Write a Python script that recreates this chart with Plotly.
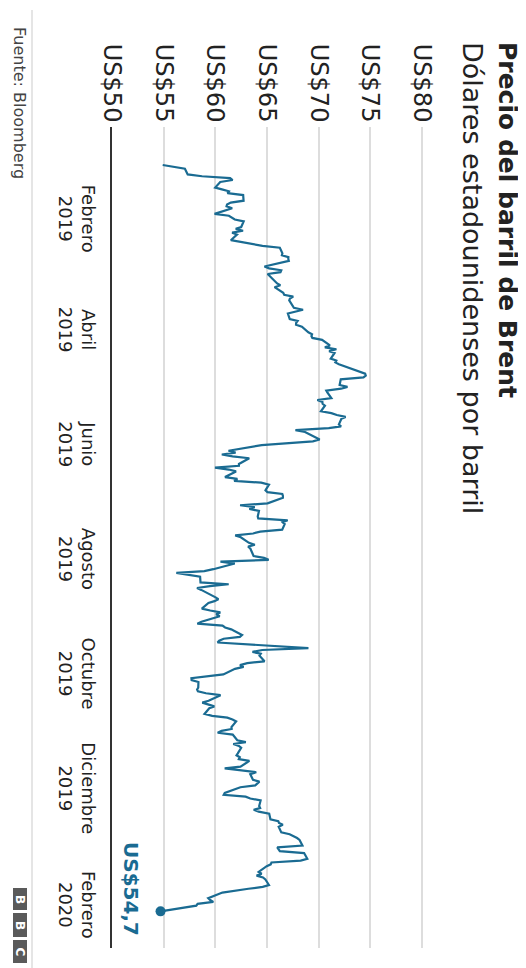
import plotly.graph_objects as go

# ---------------- data ----------------
fechas = [
    "2019-01-02","2019-01-03","2019-01-04","2019-01-07","2019-01-08","2019-01-09","2019-01-10","2019-01-11",
    "2019-01-14","2019-01-15","2019-01-16","2019-01-17","2019-01-18","2019-01-21","2019-01-22","2019-01-23",
    "2019-01-24","2019-01-25","2019-01-28","2019-01-29","2019-01-30","2019-01-31",
    "2019-02-01","2019-02-04","2019-02-05","2019-02-06","2019-02-07","2019-02-08","2019-02-11","2019-02-12",
    "2019-02-13","2019-02-14","2019-02-15","2019-02-18","2019-02-19","2019-02-20","2019-02-21","2019-02-22",
    "2019-02-25","2019-02-26","2019-02-27","2019-02-28",
    "2019-03-01","2019-03-04","2019-03-05","2019-03-06","2019-03-07","2019-03-08","2019-03-11","2019-03-12",
    "2019-03-13","2019-03-14","2019-03-15","2019-03-18","2019-03-19","2019-03-20","2019-03-21","2019-03-22",
    "2019-03-25","2019-03-26","2019-03-27","2019-03-28","2019-03-29",
    "2019-04-01","2019-04-02","2019-04-03","2019-04-04","2019-04-05","2019-04-08","2019-04-09","2019-04-10",
    "2019-04-11","2019-04-12","2019-04-15","2019-04-16","2019-04-17","2019-04-18","2019-04-22","2019-04-23",
    "2019-04-24","2019-04-25","2019-04-26","2019-04-29","2019-04-30",
    "2019-05-01","2019-05-02","2019-05-03","2019-05-06","2019-05-07","2019-05-08","2019-05-09","2019-05-10",
    "2019-05-13","2019-05-14","2019-05-15","2019-05-16","2019-05-17","2019-05-20","2019-05-21","2019-05-22",
    "2019-05-23","2019-05-24","2019-05-27","2019-05-28","2019-05-29","2019-05-30","2019-05-31",
    "2019-06-03","2019-06-04","2019-06-05","2019-06-06","2019-06-07","2019-06-10","2019-06-11","2019-06-12",
    "2019-06-13","2019-06-14","2019-06-17","2019-06-18","2019-06-19","2019-06-20","2019-06-21","2019-06-24",
    "2019-06-25","2019-06-26","2019-06-27","2019-06-28",
    "2019-07-01","2019-07-02","2019-07-03","2019-07-04","2019-07-05","2019-07-08","2019-07-09","2019-07-10",
    "2019-07-11","2019-07-12","2019-07-15","2019-07-16","2019-07-17","2019-07-18","2019-07-19","2019-07-22",
    "2019-07-23","2019-07-24","2019-07-25","2019-07-26","2019-07-29","2019-07-30","2019-07-31",
    "2019-08-01","2019-08-02","2019-08-05","2019-08-06","2019-08-07","2019-08-08","2019-08-09","2019-08-12",
    "2019-08-13","2019-08-14","2019-08-15","2019-08-16","2019-08-19","2019-08-20","2019-08-21","2019-08-22",
    "2019-08-23","2019-08-26","2019-08-27","2019-08-28","2019-08-29","2019-08-30",
    "2019-09-02","2019-09-03","2019-09-04","2019-09-05","2019-09-06","2019-09-09","2019-09-10","2019-09-11",
    "2019-09-12","2019-09-13","2019-09-16","2019-09-17","2019-09-18","2019-09-19","2019-09-20","2019-09-23",
    "2019-09-24","2019-09-25","2019-09-26","2019-09-27","2019-09-30",
    "2019-10-01","2019-10-02","2019-10-03","2019-10-04","2019-10-07","2019-10-08","2019-10-09","2019-10-10",
    "2019-10-11","2019-10-14","2019-10-15","2019-10-16","2019-10-17","2019-10-18","2019-10-21","2019-10-22",
    "2019-10-23","2019-10-24","2019-10-25","2019-10-28","2019-10-29","2019-10-30","2019-10-31",
    "2019-11-01","2019-11-04","2019-11-05","2019-11-06","2019-11-07","2019-11-08","2019-11-11","2019-11-12",
    "2019-11-13","2019-11-14","2019-11-15","2019-11-18","2019-11-19","2019-11-20","2019-11-21","2019-11-22",
    "2019-11-25","2019-11-26","2019-11-27","2019-11-28","2019-11-29",
    "2019-12-02","2019-12-03","2019-12-04","2019-12-05","2019-12-06","2019-12-09","2019-12-10","2019-12-11",
    "2019-12-12","2019-12-13","2019-12-16","2019-12-17","2019-12-18","2019-12-19","2019-12-20","2019-12-23",
    "2019-12-24","2019-12-26","2019-12-27","2019-12-30","2019-12-31",
    "2020-01-02","2020-01-03","2020-01-06","2020-01-07","2020-01-08","2020-01-09","2020-01-10","2020-01-13",
    "2020-01-14","2020-01-15","2020-01-16","2020-01-17","2020-01-20","2020-01-21","2020-01-22","2020-01-23",
    "2020-01-24","2020-01-27","2020-01-28","2020-01-29","2020-01-30","2020-01-31",
    "2020-02-03",
]

precio_brent = [
    54.91,55.95,57.06,57.33,58.72,61.44,61.68,60.48,59.99,60.64,61.32,61.18,62.70,62.74,61.50,61.14,
    61.09,61.64,59.93,61.32,61.65,61.89,
    62.75,62.51,61.98,62.69,61.63,62.10,61.51,62.42,63.61,64.57,66.25,66.50,66.45,67.08,67.07,67.12,
    64.76,65.21,66.39,66.31,
    65.07,65.67,65.86,65.99,66.30,65.74,66.58,66.67,67.55,67.23,67.16,67.54,67.61,68.50,67.86,67.03,
    67.21,67.97,67.83,67.82,68.39,
    69.01,69.37,69.31,69.40,70.34,71.10,70.61,71.73,71.02,71.55,71.18,71.72,71.62,71.97,74.04,74.51,
    74.57,74.35,72.15,72.04,72.80,
    72.18,70.75,70.85,71.24,69.88,70.37,70.39,70.62,70.23,71.24,71.77,72.62,72.21,71.97,72.18,70.99,
    67.76,68.69,69.70,70.11,69.45,66.87,64.49,
    61.28,61.97,60.63,61.67,63.29,62.29,62.29,59.97,61.31,62.01,60.94,62.14,61.82,64.45,65.20,64.86,
    65.05,66.49,66.55,66.55,
    65.06,62.40,63.82,63.30,64.23,64.11,64.16,67.01,66.52,66.72,66.48,64.35,63.66,61.93,62.47,63.26,
    63.83,63.18,63.39,63.46,63.71,64.72,65.17,
    60.50,61.89,59.81,58.94,56.23,57.38,58.53,58.57,61.30,59.48,58.23,58.64,59.74,60.03,60.30,59.92,
    59.34,58.70,59.51,60.49,60.08,60.43,
    58.66,58.26,60.70,60.95,61.54,62.59,62.38,60.81,60.38,60.22,69.02,64.55,63.60,64.40,64.28,64.77,
    63.10,62.39,62.74,61.91,60.78,
    58.89,57.69,57.71,58.37,58.35,58.24,58.32,59.10,60.51,59.35,58.74,59.42,59.91,59.42,58.96,59.70,
    61.17,61.67,62.02,61.57,61.59,60.61,60.23,
    61.69,62.13,62.96,61.74,62.29,62.51,62.18,62.06,62.37,62.28,63.30,62.44,60.91,62.40,63.97,63.39,
    63.65,64.27,64.06,63.87,62.43,
    60.92,60.82,62.94,63.39,64.39,64.25,64.34,63.72,64.20,65.22,65.34,66.10,66.17,66.54,66.14,66.39,
    67.20,67.92,68.16,68.44,66.00,
    66.25,68.60,68.91,68.27,65.44,65.37,64.98,64.20,64.49,64.00,64.62,64.85,65.20,64.59,63.21,62.04,
    60.69,59.32,59.51,59.81,58.29,58.16,
    54.70,
]

precio_ticks = [50, 55, 60, 65, 70, 75, 80]
precio_labels = ["US$50", "US$55", "US$60", "US$65", "US$70", "US$75", "US$80"]

fecha_ticks = ["2019-02-01", "2019-04-01", "2019-06-01", "2019-08-01",
               "2019-10-01", "2019-12-01", "2020-02-01"]
fecha_labels = ["Febrero<br>2019", "Abril<br>2019", "Junio<br>2019", "Agosto<br>2019",
                "Octubre<br>2019", "Diciembre<br>2019", "Febrero<br>2020"]

titulo = "Precio del barril de Brent"
subtitulo = "Dólares estadounidenses por barril"
fuente = "Fuente: Bloomberg"
etiqueta_final = "US$54,7"

# ---------------- layout helpers ----------------
# the page body adds an 8px offset; the figure is sized to fit the window exactly
OFF = 8
W, H = 526 - OFF, 968 - OFF
ML, MT = 112 - OFF, 127 - OFF          # plot area top-left (reference pixels minus offset)
PR, PB = 427 - OFF, 948 - OFF          # plot area right / bottom
MR, MB = W - PR, H - PB
PW, PH = PR - ML, PB - MT


def px(xr):
    """reference-picture x pixel -> paper x"""
    return (xr - OFF - ML) / PW


def py(yr):
    """reference-picture y pixel -> paper y"""
    return 1 - (yr - OFF - MT) / PH


FONT = "DejaVu Sans"
AZUL = "#1a6b92"

fig = go.Figure()
fig.add_trace(go.Scatter(
    x=precio_brent, y=fechas, mode="lines",
    line=dict(color=AZUL, width=2.2), hoverinfo="skip", showlegend=False,
))
fig.add_trace(go.Scatter(
    x=[precio_brent[-1]], y=[fechas[-1]], mode="markers",
    marker=dict(color=AZUL, size=10), hoverinfo="skip", showlegend=False,
))


def nota(text, xr, yr, size, color, xanchor="center", yanchor="top"):
    return dict(text=text, xref="paper", yref="paper", x=px(xr), y=py(yr),
                xanchor=xanchor, yanchor=yanchor, textangle=90, showarrow=False,
                font=dict(family=FONT, size=size, color=color))


annotations = [
    nota("<b>" + titulo + "</b>", 508, 40, 25, "#222222"),
    nota(subtitulo, 473, 40, 27, "#222222"),
    nota(fuente, 20, 25, 16, "#444444"),
    nota("<b>" + etiqueta_final + "</b>", 131, 889, 20, AZUL, yanchor="middle"),
]
shapes = [
    dict(type="line", xref="paper", yref="paper", x0=px(32), x1=px(32), y0=py(10), y1=py(968),
         line=dict(color="#dddddd", width=1.5)),
]
for (y0, y1, letra) in [(888, 910, "B"), (913, 937, "B"), (940, 963, "C")]:
    shapes.append(dict(type="rect", xref="paper", yref="paper", x0=px(13), x1=px(27), y0=py(y1), y1=py(y0),
                       fillcolor="#5a5a5a", line=dict(width=0)))
    annotations.append(nota("<b>" + letra + "</b>", 20, (y0 + y1) / 2, 12, "white", yanchor="middle"))

fig.update_layout(
    width=W, height=H,
    margin=dict(l=ML, r=MR, t=MT, b=MB, autoexpand=False),
    paper_bgcolor="white", plot_bgcolor="white",
    font=dict(family=FONT, color="#222222"),
    annotations=annotations, shapes=shapes,
    xaxis=dict(
        side="top", range=[50, 80.5], tickvals=precio_ticks, ticktext=precio_labels,
        tickangle=90, tickfont=dict(family=FONT, size=24, color="#222222"),
        showgrid=True, gridcolor="#dddddd", gridwidth=1.5, zeroline=False,
        showline=False, ticks="", fixedrange=True, automargin=False,
    ),
    yaxis=dict(
        type="date", range=["2020-02-22 12:00", "2018-12-12 19:00"],
        tickvals=fecha_ticks, ticktext=fecha_labels, tickangle=90,
        tickfont=dict(family=FONT, size=18, color="#222222"),
        showgrid=False, zeroline=False, showline=True, linecolor="#333333", linewidth=2,
        ticks="", ticklabelstandoff=6, fixedrange=True, automargin=False,
    ),
)

fig.write_html("out.html")
